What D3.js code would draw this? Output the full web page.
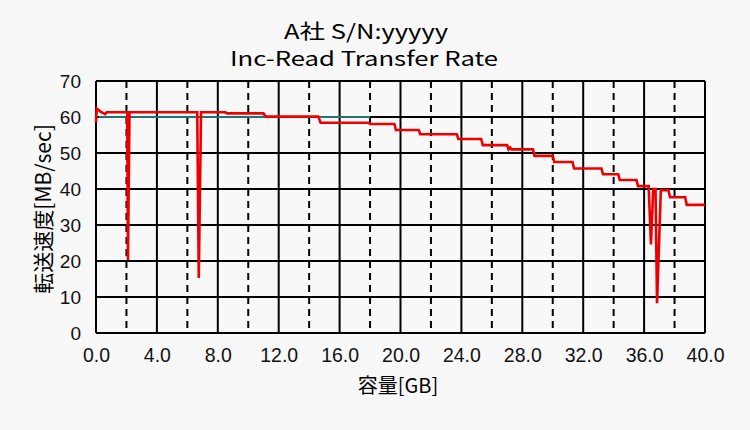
<!DOCTYPE html>
<html>
<head>
<meta charset="utf-8">
<title>Inc-Read Transfer Rate</title>
<script src="https://d3js.org/d3.v7.min.js"></script>
<style>
  body { margin: 0; background: #f8f8f8; }
  svg { display: block; }
</style>
</head>
<body>
<div id="chart"></div>
<script>
// capacity [GB] and rate [MB/sec]
var readGB  = [0, 0.05, 0.3, 0.6, 0.7, 2.05, 2.1, 2.2, 6.65, 6.75, 6.9, 8.5, 8.6, 11.0, 11.15, 14.6, 14.75,
               17.9, 18.0, 19.6, 19.7, 21.2, 21.3, 23.7, 23.8, 25.3, 25.4, 27.0, 27.1, 27.2, 27.3, 28.7, 28.8,
               30.0, 30.1, 31.3, 31.4, 33.2, 33.3, 34.3, 34.4, 35.5, 35.6, 36.3, 36.45, 36.6, 36.75, 36.85,
               37.1, 37.6, 37.7, 38.7, 38.8, 40.0];
var readMBs = [58.5, 62.3, 61.5, 60.8, 61.3, 61.3, 20.3, 61.3, 61.3, 15.3, 61.3, 61.3, 61.0, 61.0, 60.1, 60.1, 58.4,
               58.4, 58.05, 58.05, 56.4, 56.4, 55.2, 55.2, 53.9, 53.9, 52.2, 52.2, 51.0, 51.5, 51.0, 51.0, 49.2,
               49.2, 47.5, 47.5, 45.7, 45.7, 44.1, 44.1, 42.5, 42.5, 40.8, 40.8, 24.6, 40.0, 40.0, 8.3,
               39.7, 39.7, 37.7, 37.7, 35.6, 35.6];
var refGB  = [0.2, 18.0];
var refMBs = [60, 60];

var xTicks = [0, 4, 8, 12, 16, 20, 24, 28, 32, 36, 40];
var xDash  = [2, 6, 10, 14, 18, 22, 26, 30, 34, 38];
var yTicks = [0, 10, 20, 30, 40, 50, 60, 70];

var W = 750, H = 430;
var margin = {top: 81, right: 45, bottom: 97, left: 96},
    width = W - margin.left - margin.right,
    height = H - margin.top - margin.bottom;

var svg = d3.select("#chart").append("svg")
    .attr("width", W)
    .attr("height", H)
    .style("background", "#f8f8f8");

var g = svg.append("g")
    .attr("transform", "translate(" + margin.left + "," + margin.top + ")");

var x = d3.scaleLinear().domain([0, 40]).range([0, width]);
var y = d3.scaleLinear().domain([0, 70]).range([height, 0]);

// dashed verticals
g.selectAll(".dash").data(xDash).enter().append("line")
    .attr("x1", function(d) { return x(d); })
    .attr("x2", function(d) { return x(d); })
    .attr("y1", 0).attr("y2", height)
    .attr("stroke", "#000").attr("stroke-width", 2)
    .attr("stroke-dasharray", "7,5");

// solid grid
g.selectAll(".vgrid").data(xTicks).enter().append("line")
    .attr("x1", function(d) { return x(d); })
    .attr("x2", function(d) { return x(d); })
    .attr("y1", 0).attr("y2", height)
    .attr("stroke", "#000").attr("stroke-width", 2);

g.selectAll(".hgrid").data(yTicks).enter().append("line")
    .attr("x1", 0).attr("x2", width)
    .attr("y1", function(d) { return y(d); })
    .attr("y2", function(d) { return y(d); })
    .attr("stroke", "#000").attr("stroke-width", 2);

// axes (labels only)
var yAxis = g.append("g")
    .call(d3.axisLeft(y).tickValues(yTicks).tickSize(0).tickPadding(15));
yAxis.select(".domain").remove();
yAxis.selectAll("text")
    .style("font-family", "'Liberation Sans', Arial, sans-serif")
    .style("font-size", "19px")
    .attr("fill", "#111");

var xAxis = g.append("g")
    .attr("transform", "translate(0," + height + ")")
    .call(d3.axisBottom(x).tickValues(xTicks).tickSize(0).tickPadding(14)
      .tickFormat(d3.format(".1f")));
xAxis.select(".domain").remove();
xAxis.selectAll("text")
    .style("font-family", "'Liberation Sans', sans-serif")
    .style("font-size", "21px")
    .attr("fill", "#111")
    .attr("textLength", function(d) {
      var s = d3.format(".1f")(d);
      return (s.length - 1) * 10.8 + 5.5;
    })
    .attr("lengthAdjust", "spacingAndGlyphs");

// lines
var line = d3.line()
    .x(function(d) { return x(d[0]); })
    .y(function(d) { return y(d[1]); });

g.append("path")
    .datum(d3.zip(refGB, refMBs))
    .attr("d", line)
    .attr("fill", "none")
    .attr("stroke", "#2a9a9a")
    .attr("stroke-width", 1.6);

g.append("path")
    .datum(d3.zip(readGB, readMBs))
    .attr("d", line)
    .attr("fill", "none")
    .attr("stroke", "#ee0000")
    .attr("stroke-width", 2.6)
    .attr("stroke-linejoin", "miter");

// titles
var jp = "'Noto Sans CJK JP', sans-serif";
svg.append("text")
    .attr("x", 366).attr("y", 39)
    .attr("text-anchor", "middle")
    .attr("textLength", 164).attr("lengthAdjust", "spacingAndGlyphs")
    .style("font-family", jp).style("font-size", "20px")
    .text("A社  S/N:yyyyy");

svg.append("text")
    .attr("x", 364).attr("y", 66)
    .attr("text-anchor", "middle")
    .attr("textLength", 268).attr("lengthAdjust", "spacingAndGlyphs")
    .style("font-family", jp).style("font-size", "20px")
    .text("Inc-Read Transfer Rate");

svg.append("text")
    .attr("transform", "translate(51,209) rotate(-90)")
    .attr("text-anchor", "middle")
    .style("font-family", jp).style("font-size", "21px")
    .text("転送速度[MB/sec]");

svg.append("text")
    .attr("x", 398).attr("y", 393)
    .attr("text-anchor", "middle")
    .style("font-family", jp).style("font-size", "20px")
    .text("容量[GB]");
</script>
</body>
</html>
